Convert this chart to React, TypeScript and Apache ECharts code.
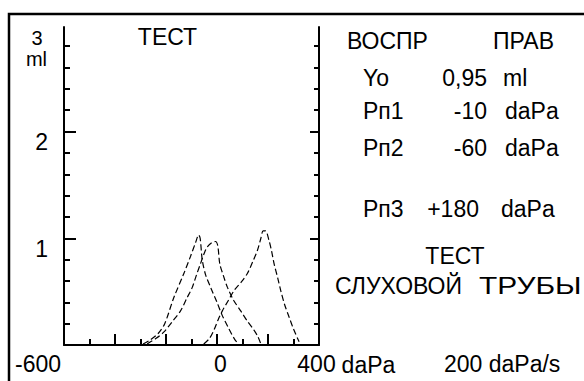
import React, { useEffect, useRef } from 'react';
import * as echarts from 'echarts';

// Tympanometry curves: pressure (daPa) vs compliance (ml)
const pressureA = [-290, -260, -230, -205, -170, -130, -104, -84, -72, -66, -58, -45, -25, 0, 20, 45, 70, 85];
const volumeA = [0.01, 0.05, 0.11, 0.2, 0.44, 0.67, 0.83, 0.96, 1.03, 1.0, 0.8, 0.66, 0.54, 0.4, 0.28, 0.16, 0.05, 0.01];

const pressureB = [-274, -240, -209, -175, -143, -118, -97, -80, -65, -50, -38, -20, -6, 3, 11, 25, 41, 65, 93, 120, 145, 160, 172];
const volumeB = [0.01, 0.06, 0.12, 0.22, 0.32, 0.44, 0.54, 0.66, 0.76, 0.86, 0.92, 0.96, 0.97, 0.93, 0.76, 0.65, 0.54, 0.42, 0.32, 0.22, 0.14, 0.08, 0.01];

const pressureC = [-52, -30, -12, 5, 21, 45, 67, 95, 119, 140, 159, 172, 181, 190, 204, 214, 224, 238, 250, 265, 283, 300, 322];
const volumeC = [0.01, 0.06, 0.14, 0.24, 0.32, 0.42, 0.51, 0.59, 0.67, 0.78, 0.89, 1.0, 1.07, 1.07, 0.98, 0.88, 0.76, 0.63, 0.51, 0.38, 0.26, 0.15, 0.03];

const xMin = -600;
const xMax = 400;
const xInterval = 200;
const xLabelValues = [-600, 0, 400];
const xLabelTexts = ['-600', '0', '400'];
const xUnit = 'daPa';

const yMin = 0;
const yMax = 2.98;
const yMajorValues = [1, 2];
const yMinorValues = [0.2, 0.4, 0.6, 0.8, 1.2, 1.4, 1.6, 1.8, 2.2, 2.4, 2.6, 2.8];
const yTopLabel = '3';
const yUnit = 'ml';

const plotTitle = 'ТЕСТ';
const headerLeft = 'ВОСПР';
const headerRight = 'ПРАВ';
const rowLabels = ['Yo', 'Рп1', 'Рп2', 'Рп3'];
const rowValues = ['0,95', '-10', '-60', '+180'];
const rowUnits = ['ml', 'daPa', 'daPa', 'daPa'];
const footerTitle = 'ТЕСТ';
const footerWords = ['СЛУХОВОЙ', 'ТРУБЫ'];
const speedLabel = '200 daPa/s';

const FONT = '"Liberation Sans", Arial, Helvetica, sans-serif';
const FS = 23;

export default function App() {
  const ref = useRef<HTMLDivElement>(null);
  useEffect(() => {
    const chart = echarts.init(ref.current as HTMLDivElement, null, { renderer: 'svg' });

    const lineStyle = { color: '#000', width: 1.2, type: [6, 3] as any };
    const mk = (px: number[], vy: number[]) => ({
      type: 'line',
      xAxisIndex: 0,
      yAxisIndex: 0,
      data: px.map((p, i) => [p, vy[i]]),
      showSymbol: false,
      smooth: 0.3,
      lineStyle,
      silent: true,
    });

    const txt = (text: string, x: number, y: number, align = 'left', extra: any = {}) => ({
      type: 'text',
      x,
      y,
      silent: true,
      ...extra,
      style: {
        text,
        fill: '#000',
        fontSize: FS,
        fontFamily: FONT,
        textAlign: align,
        textVerticalAlign: 'middle',
        ...(extra.style || {}),
      },
    });

    const rowY = [77.5, 111, 147.5, 208.5];
    const valueRight = [487, 487, 487, 479];
    const unitLeft = [503, 505, 505, 501];
    const graphics: any[] = [
      {
        type: 'rect',
        silent: true,
        shape: { x: 9, y: 14, width: 640, height: 440 },
        style: { fill: 'none', stroke: '#000', lineWidth: 2.5 },
      },
      txt(yTopLabel, 37, 38, 'center', { style: { fontSize: 20 } }),
      txt(yUnit, 36.5, 59, 'center', { style: { fontSize: 20 } }),
      txt(plotTitle, 167.5, 37, 'center'),
      txt(headerLeft, 347, 41),
      txt(headerRight, 493, 41),
      ...rowLabels.map((l, i) => txt(l, 363, rowY[i])),
      ...rowValues.map((v, i) => txt(v, valueRight[i], rowY[i], 'right')),
      ...rowUnits.map((u, i) => txt(u, unitLeft[i], rowY[i])),
      txt(footerTitle, 455, 256, 'center'),
      txt(footerWords[0], 335, 286),
      txt(footerWords[1], 479, 286, 'left', { scaleX: 1.3 }),
      txt(speedLabel, 444, 364),
    ];

    const yBase = {
      type: 'value',
      min: yMin,
      max: yMax,
      splitLine: { show: false },
      axisLine: { show: false, onZero: false, lineStyle: { color: '#000', width: 2 } },
      axisLabel: { show: false },
    };

    const option: any = {
      animation: false,
      backgroundColor: '#fff',
      grid: { left: 64, right: 265, top: 27, bottom: 36, containLabel: false },
      xAxis: {
        type: 'value',
        min: xMin,
        max: xMax,
        interval: xInterval,
        name: xUnit,
        nameLocation: 'end',
        nameGap: 21,
        nameTextStyle: {
          color: '#000',
          fontSize: FS,
          fontFamily: FONT,
          align: 'left',
          verticalAlign: 'top',
          padding: [8, 0, 0, 0],
        },
        splitLine: { show: false },
        axisLine: { onZero: false, lineStyle: { color: '#000', width: 2 } },
        axisTick: { inside: true, length: 11, lineStyle: { color: '#000', width: 2 } },
        minorTick: { show: true, splitNumber: 2, length: 6, lineStyle: { color: '#000', width: 2 } },
        minorSplitLine: { show: false },
        axisLabel: {
          customValues: xLabelValues,
          margin: 7,
          color: '#000',
          fontSize: FS,
          fontFamily: FONT,
          formatter: (v: number) => {
            const i = xLabelValues.indexOf(v);
            const t = i >= 0 ? xLabelTexts[i] : String(v);
            if (i === 0) return '{l|' + t + '}';
            if (i === xLabelValues.length - 1) return '{r|' + t + '}';
            return '{c|' + t + '}';
          },
          rich: {
            l: { fontSize: FS, fontFamily: FONT, color: '#000', padding: [0, 52, 0, 0] },
            c: { fontSize: FS, fontFamily: FONT, color: '#000', padding: [0, 0, 0, 7] },
            r: { fontSize: FS, fontFamily: FONT, color: '#000', padding: [0, 5, 0, 0] },
          },
        },
      },
      yAxis: [
        {
          ...yBase,
          position: 'left',
          axisLine: { show: true, onZero: false, lineStyle: { color: '#000', width: 2 } },
          axisTick: { show: true, inside: true, length: 12, customValues: yMajorValues, lineStyle: { color: '#000', width: 2 } },
          axisLabel: {
            show: true,
            customValues: yMajorValues,
            margin: 16,
            color: '#000',
            fontSize: FS,
            fontFamily: FONT,
            verticalAlign: 'top',
            lineHeight: 21,
          },
        },
        {
          ...yBase,
          position: 'left',
          axisTick: { show: true, inside: true, length: 6, customValues: yMinorValues, lineStyle: { color: '#000', width: 2 } },
        },
        {
          ...yBase,
          position: 'right',
          axisLine: { show: true, onZero: false, lineStyle: { color: '#000', width: 2 } },
          axisTick: { show: true, inside: true, length: 9, customValues: yMajorValues, lineStyle: { color: '#000', width: 2 } },
        },
        {
          ...yBase,
          position: 'right',
          axisTick: { show: true, inside: true, length: 5, customValues: yMinorValues, lineStyle: { color: '#000', width: 2 } },
        },
      ],
      series: [mk(pressureA, volumeA), mk(pressureB, volumeB), mk(pressureC, volumeC)],
      graphic: graphics,
    };

    chart.setOption(option);
    return () => chart.dispose();
  }, []);
  return (
    <div
      ref={ref}
      style={{ position: 'fixed', left: 0, top: 0, width: 584, height: 381, background: '#fff' }}
    />
  );
}
